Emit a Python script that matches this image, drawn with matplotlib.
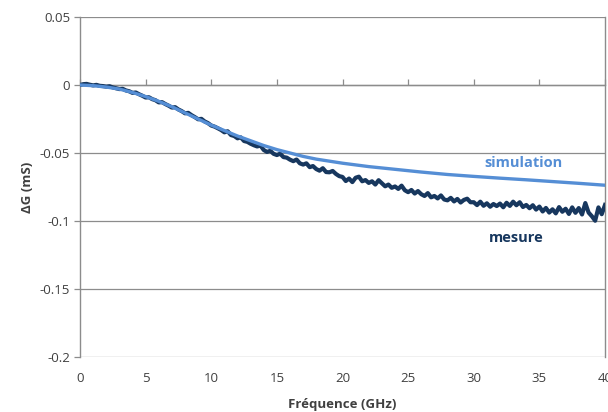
import numpy as np
import matplotlib
matplotlib.use("Agg")
import matplotlib.pyplot as plt

# Simulation curve (GHz, mS)
sim_freq = [0, 1, 2, 3, 4, 5, 6, 7, 8, 9, 10, 11, 12, 13, 14, 15, 16, 17, 18, 19,
            20, 22, 24, 26, 28, 30, 32, 34, 36, 38, 40]
sim_dg = [0.0, -0.0005, -0.0015, -0.003, -0.0055, -0.0085, -0.012, -0.016, -0.0205,
          -0.025, -0.0295, -0.0335, -0.0375, -0.041, -0.0445, -0.0475, -0.050,
          -0.0525, -0.0545, -0.0560, -0.0575, -0.060, -0.062, -0.064, -0.0658,
          -0.0672, -0.0685, -0.0697, -0.071, -0.0723, -0.0737]

# Measured curve, read every 0.25 GHz from 0 to 40 GHz
meas_step = 0.25
meas_dg = [
    0.0000, 0.0006, 0.0008, 0.0002,
    -0.0003, 0.0001, -0.0006, -0.0008,
    -0.0012, -0.0009, -0.0018, -0.0024,
    -0.0030, -0.0028, -0.0040, -0.0046,
    -0.0058, -0.0055, -0.0068, -0.0079,
    -0.0092, -0.0090, -0.0104, -0.0112,
    -0.0128, -0.0126, -0.0140, -0.0152,
    -0.0166, -0.0163, -0.0180, -0.0192,
    -0.0208, -0.0205, -0.0222, -0.0236,
    -0.0252, -0.0249, -0.0268, -0.0280,
    -0.0298, -0.0306, -0.0318, -0.0331,
    -0.0348, -0.0340, -0.0368, -0.0375,
    -0.0392, -0.0385, -0.0412, -0.0418,
    -0.0432, -0.0443, -0.0452, -0.0445,
    -0.0478, -0.0492, -0.0484, -0.0506,
    -0.0515, -0.0505, -0.0530, -0.0534,
    -0.0549, -0.0560, -0.0548, -0.0576,
    -0.0585, -0.0576, -0.0604, -0.0596,
    -0.0618, -0.0630, -0.0612, -0.0640,
    -0.0642, -0.0632, -0.0654, -0.0670,
    -0.0676, -0.0706, -0.0688, -0.0714,
    -0.0682, -0.0674, -0.0708, -0.0699,
    -0.0720, -0.0708, -0.0732, -0.0700,
    -0.0722, -0.0745, -0.0732, -0.0756,
    -0.0746, -0.0764, -0.0740, -0.0774,
    -0.0788, -0.0772, -0.0798, -0.0780,
    -0.0803, -0.0816, -0.0795, -0.0826,
    -0.0816, -0.0834, -0.0812, -0.0842,
    -0.0848, -0.0830, -0.0856, -0.0838,
    -0.0864, -0.0845, -0.0836, -0.0862,
    -0.0862, -0.0883, -0.0858, -0.0888,
    -0.0870, -0.0895, -0.0875, -0.0890,
    -0.0872, -0.0899, -0.0866, -0.0889,
    -0.0858, -0.0884, -0.0862, -0.0897,
    -0.0882, -0.0906, -0.0884, -0.0916,
    -0.0894, -0.0930, -0.0904, -0.0938,
    -0.0914, -0.0944, -0.0898, -0.0932,
    -0.0910, -0.0948, -0.0900, -0.0940,
    -0.0905, -0.0952, -0.0868, -0.0938,
    -0.0965, -0.0998, -0.0900, -0.0950,
    -0.0882,
]
meas_freq = np.arange(len(meas_dg)) * meas_step

x_ticks = [0, 5, 10, 15, 20, 25, 30, 35, 40]
y_ticks = [0.05, 0, -0.05, -0.1, -0.15, -0.2]
y_tick_labels = ["0.05", "0", "-0.05", "-0.1", "-0.15", "-0.2"]

plt.rcParams['font.family'] = ['Open Sans', 'DejaVu Sans']
text_color = "#404040"
grid_color = "#8C8C8C"

fig = plt.figure(figsize=(6.08, 4.12), dpi=100)
ax = fig.add_axes([80/608, 1-357/412, 525/608, 340/412])

ax.plot(meas_freq, meas_dg, color="#17375E", lw=3.0, solid_joinstyle='round', zorder=3)
ax.plot(sim_freq, sim_dg, color="#558ED5", lw=2.4, zorder=4)

ax.set_xlim(0, 40)
ax.set_ylim(-0.2, 0.05)
ax.set_yticks(y_ticks)
ax.set_yticklabels(y_tick_labels)
ax.set_xticks(x_ticks)

ax.grid(axis='y', color=grid_color, lw=0.9)
ax.set_axisbelow(True)
for s in ['top', 'bottom']:
    ax.spines[s].set_visible(False)
for s in ['left', 'right']:
    ax.spines[s].set_color(grid_color)
    ax.spines[s].set_linewidth(1.0)

ax.tick_params(axis='y', direction='out', length=4, width=0.9, color=grid_color,
               pad=3, labelsize=9.5, labelcolor=text_color)
ax.tick_params(axis='x', length=0, pad=11, labelsize=9.5, labelcolor=text_color)

# x axis line crossing at zero with tick marks
sec = ax.secondary_xaxis(0, transform=ax.transData)
sec.set_xticks(x_ticks)
sec.set_xticklabels([])
sec.tick_params(axis='x', direction='in', length=4, width=0.9, color=grid_color)
sec.spines['bottom'].set_color(grid_color)
sec.spines['bottom'].set_linewidth(1.0)

ax.set_xlabel("Fréquence (GHz)", fontsize=9.5, fontweight='bold', color=text_color, labelpad=9)
ax.set_ylabel("ΔG (mS)", fontsize=9.5, fontweight='bold', color=text_color, labelpad=4)

ax.text(33.8, -0.0574, "simulation", color="#558ED5", fontsize=10.5, fontweight='bold',
        ha='center', va='center')
ax.text(33.2, -0.1125, "mesure", color="#17375E", fontsize=10.5, fontweight='bold',
        ha='center', va='center')

fig.savefig("out.png", dpi=100)
